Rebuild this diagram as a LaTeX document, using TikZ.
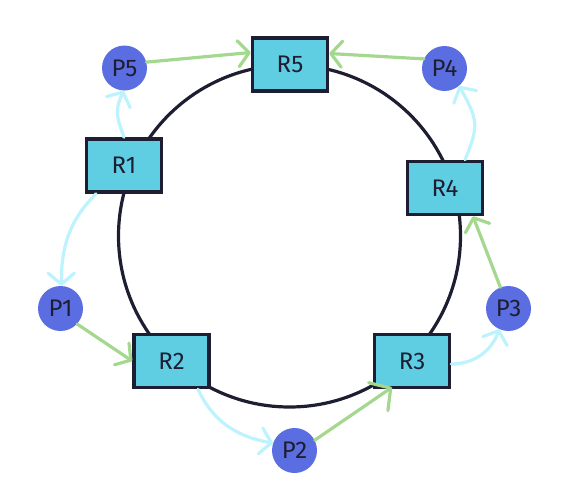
\documentclass[tikz,border=0pt]{standalone}
\usepackage{fontspec}
\setmainfont{Fira Sans}
\usetikzlibrary{arrows.meta}
\definecolor{navy}{HTML}{1E1E33}
\definecolor{rfill}{HTML}{5FCEE3}
\definecolor{pfill}{HTML}{5B6EE1}
\definecolor{garrow}{HTML}{A5D88F}
\definecolor{carrow}{HTML}{BDF3FD}
\tikzset{
  ring/.style={draw=navy, line width=3.2pt},
  rbox/.style={draw=navy, fill=rfill, line width=3.6pt, minimum width=75pt, minimum height=53pt, inner sep=0pt, text=navy, font=\fontsize{24pt}{28pt}\selectfont},
  pnode/.style={circle, fill=pfill, minimum size=45pt, inner sep=0pt, text=navy, font=\fontsize{24pt}{28pt}\selectfont},
  barb/.style={-{Straight Barb[length=11pt,width=26pt,round]}, line width=3.2pt, line cap=round},
  garr/.style={barb, draw=garrow},
  carr/.style={barb, draw=carrow},
}
\begin{document}
\begin{tikzpicture}[x=1pt,y=-1pt]
\useasboundingbox (0,0) rectangle (567,499);
\draw[ring] (289.5,236) circle[radius=171pt];
\node[rbox] (R5) at (290,64.5) {R5};
\node[rbox] (R1) at (124,165.5) {R1};
\node[rbox] (R4) at (445,188) {R4};
\node[rbox] (R2) at (171.5,361) {R2};
\node[rbox] (R3) at (412,361) {R3};
\node[pnode] (P5) at (124.5,68) {P5};
\node[pnode] (P4) at (444.5,68.5) {P4};
\node[pnode] (P1) at (60.5,308.5) {P1};
\node[pnode] (P3) at (508.5,308.5) {P3};
\node[pnode] (P2) at (294.5,450.5) {P2};
% green arrows
\draw[garr] (P5.15) -- ([yshift=12pt]R5.west);
\draw[garr] (P4.155) -- ([yshift=11pt]R5.east);
\draw[garr] (P1.-43) -- (R2.west);
\draw[garr, -{Straight Barb[length=15pt,width=34pt,round]}] (P2.27) -- ([xshift=-20pt,yshift=2pt]R3.south);
\draw[garr] (P3.111) -- ([xshift=28pt]R4.south);
% cyan arrows
\draw[carr] ([xshift=20pt]R4.north) to[out=67,in=-61,looseness=1.3] (P4.-50);
\draw[carr] (R1.north) to[out=110,in=-115,looseness=1.2] (P5.-92);
\draw[carr] ([xshift=-28pt]R1.south) to[out=-135,in=90] (P1.88);
\draw[carr] ([xshift=26.5pt]R2.south) to[out=-65,in=170] (P2.161);
\draw[carr] ([yshift=-3pt]R3.east) to[out=0,in=-110] (P3.-114);
\end{tikzpicture}
\end{document}
